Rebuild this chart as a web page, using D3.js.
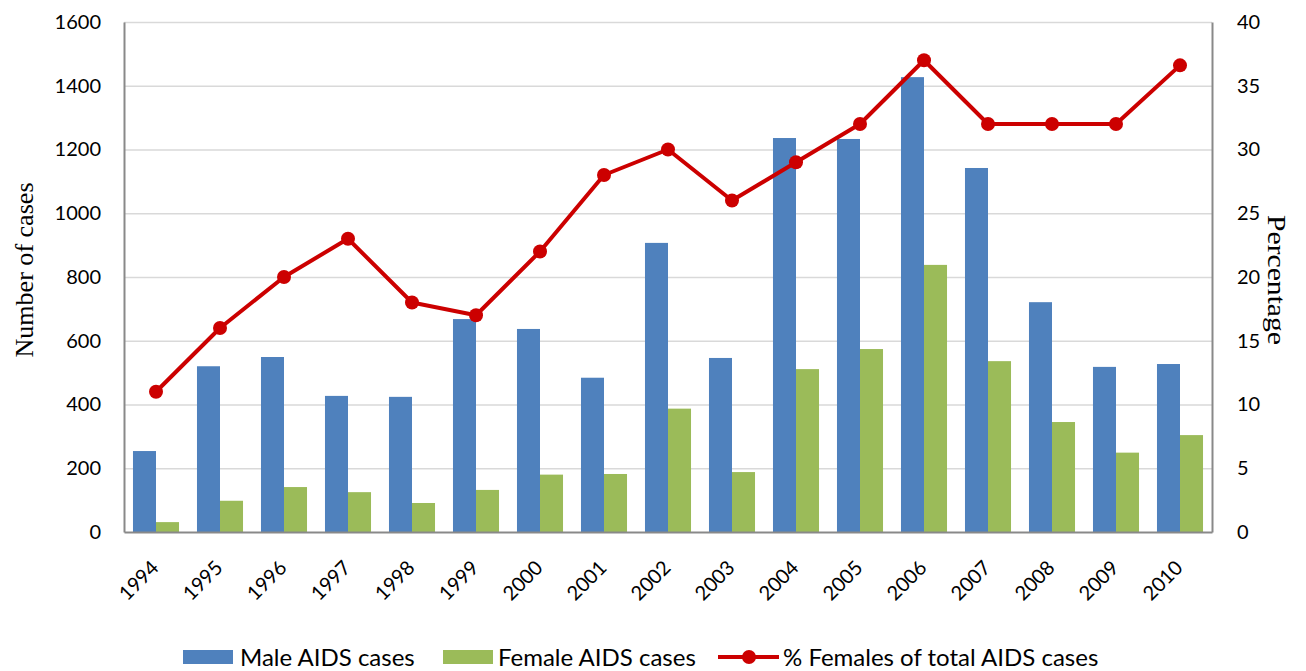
<!DOCTYPE html>
<html>
<head>
<meta charset="utf-8">
<script src="https://cdn.jsdelivr.net/npm/d3@7"></script>
<style>
  html, body { margin: 0; padding: 0; background: #fff; }
  svg { display: block; }
</style>
</head>
<body>
<svg id="chart" width="1306" height="671"></svg>
<script>
// AIDS cases by sex, 1994–2010, with female share of all cases
const years = ["1994","1995","1996","1997","1998","1999","2000","2001","2002",
               "2003","2004","2005","2006","2007","2008","2009","2010"];
const maleCases   = [254, 520, 549, 427, 424, 668, 637, 484, 907, 546, 1236, 1233, 1427, 1142, 721, 518, 527];
const femaleCases = [31, 98, 141, 125, 91, 132, 180, 182, 387, 188, 511, 574, 838, 536, 345, 249, 304];
const pctFemale   = [11, 16, 20, 23, 18, 17, 22, 28, 30, 26, 29, 32, 37, 32, 32, 32, 36.6];
const leftTicks   = [0, 200, 400, 600, 800, 1000, 1200, 1400, 1600];
const rightTicks  = [0, 5, 10, 15, 20, 25, 30, 35, 40];
const seriesNames = ["Male AIDS cases", "Female AIDS cases", "% Females of total AIDS cases"];

const colors = { male: "#4f81bd", female: "#9bbb59", pct: "#cc0000" };
const tickFont = "Lato, 'Open Sans', sans-serif";
const titleFont = "'Liberation Serif', 'DejaVu Serif', serif";

const svg = d3.select("#chart");
const m = { left: 124, right: 1212, top: 22, bottom: 532 };

const x = d3.scaleBand().domain(years).range([m.left, m.right]).paddingInner(0).paddingOuter(0);
const x2 = d3.scaleBand().domain(["male", "female"]).range([0, x.bandwidth()]).paddingInner(0).paddingOuter(0.39);
const yL = d3.scaleLinear().domain([0, 1600]).range([m.bottom, m.top]);
const yR = d3.scaleLinear().domain([0, 40]).range([m.bottom, m.top]);

// horizontal gridlines
svg.append("g")
  .selectAll("line").data(leftTicks.slice(1)).join("line")
  .attr("x1", m.left).attr("x2", m.right)
  .attr("y1", d => yL(d) + 0.5).attr("y2", d => yL(d) + 0.5)
  .attr("stroke", "#d9d9d9").attr("stroke-width", 1.5);

// bars
const groups = svg.append("g").selectAll("g").data(years).join("g")
  .attr("transform", d => `translate(${x(d)},0)`);
groups.append("rect")
  .attr("x", x2("male")).attr("width", x2.bandwidth())
  .attr("y", (d, i) => yL(maleCases[i]))
  .attr("height", (d, i) => yL(0) - yL(maleCases[i]))
  .attr("fill", colors.male);
groups.append("rect")
  .attr("x", x2("female")).attr("width", x2.bandwidth())
  .attr("y", (d, i) => yL(femaleCases[i]))
  .attr("height", (d, i) => yL(0) - yL(femaleCases[i]))
  .attr("fill", colors.female);

// axes
const axisL = svg.append("g").attr("transform", `translate(${m.left},0)`)
  .call(d3.axisLeft(yL).tickValues(leftTicks).tickFormat(d3.format("d")).tickSize(0).tickPadding(23));
const axisR = svg.append("g").attr("transform", `translate(${m.right},0)`)
  .call(d3.axisRight(yR).tickValues(rightTicks).tickFormat(d3.format("d")).tickSize(0).tickPadding(25));
const axisB = svg.append("g").attr("transform", `translate(0,${m.bottom})`)
  .call(d3.axisBottom(x).tickSize(0).tickPadding(0));

[axisL, axisR, axisB].forEach(a => {
  a.select(".domain").attr("stroke", "#898989").attr("stroke-width", 2);
  a.selectAll("text").attr("font-family", tickFont).attr("font-size", 20).attr("fill", "#000");
});
axisB.selectAll("text")
  .attr("text-anchor", "end")
  .attr("dy", null)
  .attr("transform", "translate(4,37) rotate(-45)");

// percentage line
const line = d3.line().x((d, i) => x(years[i]) + x.bandwidth() / 2).y(d => yR(d));
svg.append("path").datum(pctFemale)
  .attr("d", line).attr("fill", "none")
  .attr("stroke", colors.pct).attr("stroke-width", 4).attr("stroke-linejoin", "round");
svg.append("g").selectAll("circle").data(pctFemale).join("circle")
  .attr("cx", (d, i) => x(years[i]) + x.bandwidth() / 2)
  .attr("cy", d => yR(d))
  .attr("r", 7).attr("fill", colors.pct);

// axis titles
svg.append("text")
  .attr("transform", "translate(33,270) rotate(-90)")
  .attr("text-anchor", "middle")
  .attr("font-family", titleFont).attr("font-size", 26)
  .attr("textLength", 175).attr("lengthAdjust", "spacingAndGlyphs")
  .text("Number of cases");
svg.append("text")
  .attr("transform", "translate(1268,280) rotate(90)")
  .attr("text-anchor", "middle")
  .attr("font-family", titleFont).attr("font-size", 26)
  .attr("textLength", 130).attr("lengthAdjust", "spacingAndGlyphs")
  .text("Percentage");

// legend
const legendY = 657;
const leg = svg.append("g").attr("font-family", tickFont).attr("font-size", 24);
leg.append("rect").attr("x", 183).attr("y", legendY - 7).attr("width", 50).attr("height", 14).attr("fill", colors.male);
leg.append("text").attr("x", 240).attr("y", legendY).attr("dy", "0.36em").text(seriesNames[0]);
leg.append("rect").attr("x", 443).attr("y", legendY - 7).attr("width", 50).attr("height", 14).attr("fill", colors.female);
leg.append("text").attr("x", 498).attr("y", legendY).attr("dy", "0.36em").text(seriesNames[1]);
leg.append("line").attr("x1", 718).attr("x2", 779).attr("y1", legendY).attr("y2", legendY)
  .attr("stroke", colors.pct).attr("stroke-width", 4);
leg.append("circle").attr("cx", 749).attr("cy", legendY).attr("r", 7).attr("fill", colors.pct);
leg.append("text").attr("x", 783).attr("y", legendY).attr("dy", "0.36em").text(seriesNames[2]);
</script>
</body>
</html>
